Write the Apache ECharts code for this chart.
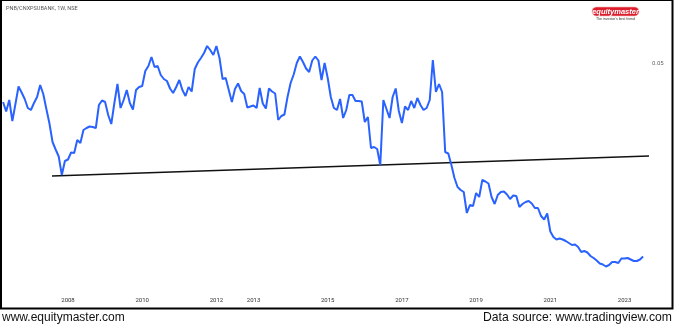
<!DOCTYPE html>
<html>
<head>
<meta charset="utf-8">
<style>
  html, body { margin: 0; padding: 0; background: #ffffff; }
  #chart { width: 675px; height: 328px; }
</style>
<script src="https://cdn.jsdelivr.net/npm/echarts@6/dist/echarts.min.js"></script>
</head>
<body>
<div id="chart"></div>
<script>
// ---- data (monthly closes, starting Apr 2006) ----
const startYear = 2006.25;          // April 2006, as decimal year
const ratioValues = [
  0.0422,0.0403,0.0426,0.0384,0.0418,0.0453,0.0441,0.0428,0.0410,0.0406,
  0.0420,0.0432,0.0456,0.0438,0.0408,0.0379,0.0342,0.0327,0.0313,0.0276,
  0.0304,0.0307,0.0321,0.0320,0.0346,0.0340,0.0366,0.0370,0.0373,0.0372,
  0.0370,0.0416,0.0425,0.0422,0.0396,0.0378,0.0420,0.0458,0.0410,0.0426,
  0.0446,0.0420,0.0407,0.0446,0.0452,0.0454,0.0484,0.0494,0.0512,0.0492,
  0.0494,0.0476,0.0468,0.0464,0.0449,0.0440,0.0452,0.0466,0.0446,0.0434,
  0.0452,0.0443,0.0488,0.0501,0.0510,0.0520,0.0534,0.0526,0.0516,0.0534,
  0.0510,0.0468,0.0470,0.0446,0.0422,0.0448,0.0459,0.0444,0.0438,0.0411,
  0.0413,0.0415,0.0410,0.0450,0.0419,0.0409,0.0449,0.0443,0.0439,0.0386,
  0.0394,0.0397,0.0432,0.0460,0.0477,0.0500,0.0513,0.0502,0.0489,0.0482,
  0.0505,0.0513,0.0505,0.0466,0.0500,0.0470,0.0432,0.0410,0.0406,0.0428,
  0.0390,0.0406,0.0436,0.0436,0.0424,0.0424,0.0423,0.0382,0.0392,0.0330,
  0.0332,0.0328,0.0296,0.0426,0.0408,0.0390,0.0432,0.0449,0.0404,0.0380,
  0.0413,0.0406,0.0424,0.0410,0.0430,0.0416,0.0406,0.0410,0.0426,0.0506,
  0.0442,0.0458,0.0442,0.0322,0.0319,0.0296,0.0270,0.0252,0.0246,0.0242,
  0.0200,0.0216,0.0214,0.0240,0.0232,0.0266,0.0263,0.0259,0.0232,0.0218,
  0.0236,0.0242,0.0243,0.0237,0.0228,0.0235,0.0234,0.0212,0.0218,0.0222,
  0.0224,0.0219,0.0210,0.0210,0.0194,0.0187,0.0199,0.0163,0.0152,0.0147,
  0.0149,0.0147,0.0144,0.0140,0.0136,0.0137,0.0132,0.0122,0.0124,0.0121,
  0.0114,0.0110,0.0105,0.0099,0.0097,0.0093,0.0096,0.0102,0.0102,0.0100,
  0.0109,0.0109,0.0110,0.0107,0.0104,0.0104,0.0107,0.0113
];
// support trend line: two anchor points [decimal year, ratio]
const trendYears  = [2007.569, 2023.66];
const trendValues = [0.0274, 0.0314];
// axis labels
const xTickYears  = [2008, 2010, 2012, 2013, 2015, 2017, 2019, 2021, 2023];
const yTickValues = [0.05];

const ratioData = ratioValues.map((v, i) => [startYear + i / 12, v]);
const trendData = trendYears.map((y, i) => [y, trendValues[i]]);

const chart = echarts.init(document.getElementById('chart'), null, { renderer: 'canvas' });
chart.setOption({
  animation: false,
  backgroundColor: '#ffffff',
  grid: { left: 2, right: 26, top: 4, bottom: 36, containLabel: false },
  xAxis: {
    type: 'value',
    min: 2006.221,
    max: 2023.66,
    axisLine: { show: false },
    axisTick: { show: false },
    splitLine: { show: false },
    axisLabel: {
      customValues: xTickYears,
      formatter: v => String(Math.round(v)),
      fontSize: 6,
      fontFamily: 'Roboto, sans-serif',
      color: '#333333',
      margin: 5
    }
  },
  yAxis: {
    type: 'value',
    position: 'right',
    min: 0.0042,
    max: 0.0618,
    axisLine: { show: false },
    axisTick: { show: false },
    splitLine: { show: false },
    axisLabel: {
      customValues: yTickValues,
      formatter: v => (yTickValues.some(t => Math.abs(t - v) < 1e-7) ? v.toFixed(2) : ''),
      fontSize: 6,
      fontFamily: 'Roboto, sans-serif',
      color: '#666666',
      margin: 3
    }
  },
  series: [
    {
      type: 'line',
      data: ratioData,
      showSymbol: false,
      lineStyle: { color: '#2962ff', width: 2 },
      z: 3
    },
    {
      type: 'line',
      data: trendData,
      showSymbol: false,
      lineStyle: { color: '#111111', width: 1.5 },
      z: 2
    }
  ],
  graphic: [
    { type: 'rect', shape: { x: 1, y: 0, width: 671.5, height: 308.5 },
      style: { fill: 'none', stroke: '#000000', lineWidth: 2 }, silent: true },
    { type: 'text', left: 6, top: 6,
      style: { text: 'PNB/CNXPSUBANK, 1W, NSE', fontSize: 5.5, fill: '#555555', fontFamily: 'Roboto, sans-serif' } },
    { type: 'rect', shape: { x: 592, y: 7, width: 47, height: 9, r: 4.5 },
      style: { fill: '#dc1e2d', stroke: '#f3b7bb', lineWidth: 0.6 } },
    { type: 'text', x: 615.5, y: 11.7,
      style: { text: 'equitymaster', fontSize: 7.5, fontWeight: 'bold', fontStyle: 'italic', fill: '#ffffff',
               align: 'center', verticalAlign: 'middle', fontFamily: 'Liberation Sans, Arial, sans-serif' } },
    { type: 'text', x: 615.5, y: 18.6,
      style: { text: "The investor's best friend", fontSize: 3.5, fill: '#333333',
               align: 'center', verticalAlign: 'middle', fontFamily: 'Liberation Sans, Arial, sans-serif' } },
    { type: 'text', x: 2, y: 318,
      style: { text: 'www.equitymaster.com', fontSize: 12, fill: '#111111',
               verticalAlign: 'middle', fontFamily: 'Liberation Sans, Arial, sans-serif' } },
    { type: 'text', x: 672, y: 318,
      style: { text: 'Data source: www.tradingview.com', fontSize: 12.2, fill: '#111111',
               align: 'right', verticalAlign: 'middle', fontFamily: 'Liberation Sans, Arial, sans-serif' } }
  ]
});
</script>
</body>
</html>
